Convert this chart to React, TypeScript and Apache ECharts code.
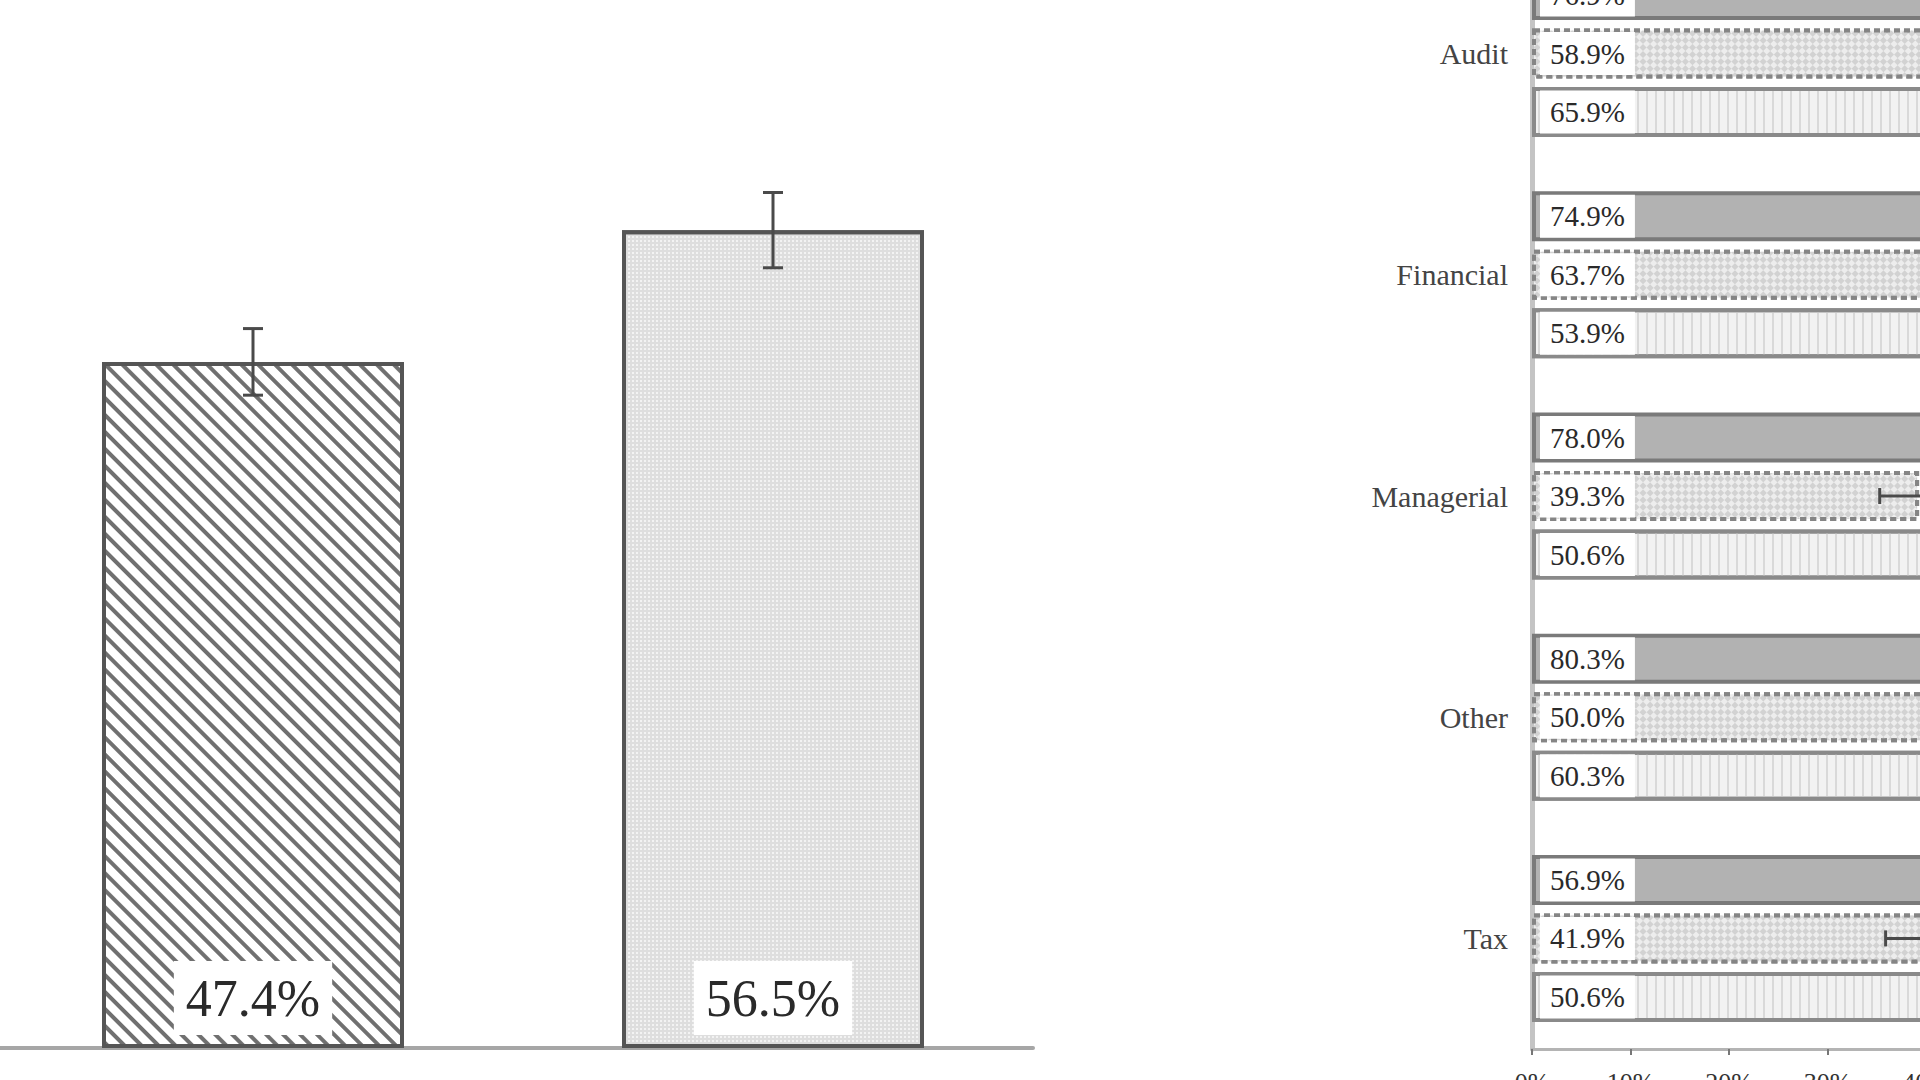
import React, { useEffect, useRef } from 'react';
import * as echarts from 'echarts';

// left panel: two overall bars with error bars
const overallGroups = ['Group A', 'Group B'];
const overallValues = [47.4, 56.5];
const overallErrors = [2.3, 2.6];

// right panel: grouped horizontal bars by area
const areas = ['Audit', 'Financial', 'Managerial', 'Other', 'Tax'];
const seriesDark = [76.9, 74.9, 78.0, 80.3, 56.9];
const seriesChecked = [58.9, 63.7, 39.3, 50.0, 41.9];
const seriesStriped = [65.9, 53.9, 50.6, 60.3, 50.6];
const checkedErrors = [5.0, 5.0, 4.0, 5.0, 6.0];
const percentTicks = [0, 10, 20, 30, 40, 50, 60, 70, 80, 90, 100];

const SERIF = "'Liberation Serif', 'Times New Roman', serif";

// the figure is a crop of a larger one: the chart canvas is bigger than the
// window and shifted up/left so that only the visible part lands on screen
const SHIFT_X = 100;
const SHIFT_Y = 200;
const CANVAS_W = 2700;
const CANVAS_H = 1300;

const pct = (v: number) => `${v.toFixed(1)}%`;

const App: React.FC = () => {
  const chartRef = useRef<HTMLDivElement>(null);

  useEffect(() => {
    if (!chartRef.current) return;
    document.body.style.margin = '0';
    document.body.style.overflow = 'hidden';
    const chart = echarts.init(chartRef.current, undefined, { renderer: 'svg' });

    const rightLabel = {
      show: true,
      position: 'insideLeft',
      distance: 8,
      formatter: (p: any) => pct(p.value),
      backgroundColor: '#ffffff',
      padding: [7, 10],
      fontFamily: SERIF,
      fontSize: 29,
      color: '#2a2a2a',
    };

    const option: echarts.EChartsOption = {
      animation: false,
      backgroundColor: '#ffffff',
      grid: [
        { left: SHIFT_X - 7, width: 1040, top: SHIFT_Y, height: 1048 },
        { left: SHIFT_X + 1532, width: 985, top: SHIFT_Y - 57, height: 1106 },
      ],
      xAxis: [
        {
          type: 'category',
          gridIndex: 0,
          data: overallGroups,
          axisLine: { lineStyle: { color: '#a6a6a6', width: 4 } },
          axisTick: { show: false },
          axisLabel: { show: false },
        },
        {
          type: 'value',
          gridIndex: 1,
          min: 0,
          max: 100,
          interval: 10,
          splitLine: { show: false },
          axisLine: { show: true, lineStyle: { color: '#b4b4b4', width: 3 } },
          axisTick: { show: true, length: 6, lineStyle: { color: '#777', width: 2 } },
          axisLabel: {
            formatter: (v: number) => (percentTicks.includes(v) ? `${v}%` : ''),
            fontFamily: SERIF,
            fontSize: 26,
            color: '#333',
            margin: 20,
          },
        },
      ],
      yAxis: [
        {
          type: 'value',
          gridIndex: 0,
          min: 0,
          max: 72.4,
          show: false,
        },
        {
          type: 'category',
          gridIndex: 1,
          data: areas,
          inverse: true,
          axisLine: { show: true, lineStyle: { color: '#c4c4c4', width: 5 } },
          axisTick: { show: false },
          axisLabel: {
            fontFamily: SERIF,
            fontSize: 30,
            color: '#444',
            margin: 24,
          },
        },
      ],
      series: [
        {
          type: 'bar',
          xAxisIndex: 0,
          yAxisIndex: 0,
          barWidth: 302,
          data: overallValues.map((v, i) => ({
            value: v,
            itemStyle:
              i === 0
                ? {
                    color: '#ffffff',
                    borderColor: '#555',
                    borderWidth: 4,
                    decal: {
                      symbol: 'rect',
                      symbolSize: 1,
                      color: '#707070',
                      dashArrayX: [1, 0],
                      dashArrayY: [4, 8],
                      rotation: Math.PI / 4,
                    },
                  }
                : {
                    color: '#dedede',
                    borderColor: '#555',
                    borderWidth: 4,
                    decal: {
                      symbol: 'rect',
                      symbolSize: 1,
                      color: '#f3f3f3',
                      dashArrayX: [2, 2],
                      dashArrayY: [2, 2],
                      rotation: 0,
                    },
                  },
          })),
          label: {
            show: true,
            position: 'insideBottom',
            distance: 13,
            formatter: (p: any) => pct(p.value),
            backgroundColor: '#ffffff',
            padding: [8, 12],
            lineHeight: 58,
            fontFamily: SERIF,
            fontSize: 52,
            color: '#2a2a2a',
          },
        },
        {
          type: 'custom',
          xAxisIndex: 0,
          yAxisIndex: 0,
          z: 5,
          encode: { x: 0, y: 1 },
          data: overallValues.map((v, i) => [i, v, overallErrors[i]]),
          renderItem: (_params: any, api: any) => {
            const c = api.value(0);
            const v = api.value(1);
            const e = api.value(2);
            const hi = api.coord([c, v + e]);
            const lo = api.coord([c, v - e]);
            const style = { stroke: '#4a4a4a', lineWidth: 3 };
            return {
              type: 'group',
              children: [
                { type: 'line', shape: { x1: hi[0], y1: hi[1], x2: lo[0], y2: lo[1] }, style },
                { type: 'line', shape: { x1: hi[0] - 10, y1: hi[1], x2: hi[0] + 10, y2: hi[1] }, style },
                { type: 'line', shape: { x1: lo[0] - 10, y1: lo[1], x2: lo[0] + 10, y2: lo[1] }, style },
              ],
            };
          },
        },
        {
          name: 'dark',
          type: 'bar',
          xAxisIndex: 1,
          yAxisIndex: 1,
          barWidth: 50,
          barGap: '17%',
          data: seriesDark,
          itemStyle: { color: '#b2b2b2', borderColor: '#7a7a7a', borderWidth: 4 },
          label: rightLabel,
        },
        {
          name: 'checked',
          type: 'bar',
          xAxisIndex: 1,
          yAxisIndex: 1,
          barWidth: 50,
          barGap: '17%',
          data: seriesChecked,
          itemStyle: {
            color: '#ededed',
            borderColor: '#858585',
            borderWidth: 4,
            borderType: [6, 4],
            decal: {
              symbol: 'rect',
              symbolSize: 1,
              color: '#d2d2d2',
              dashArrayX: [[5, 5], [0, 5, 5, 0]],
              dashArrayY: [5, 0],
              rotation: Math.PI / 4,
            },
          },
          label: rightLabel,
        },
        {
          name: 'striped',
          type: 'bar',
          xAxisIndex: 1,
          yAxisIndex: 1,
          barWidth: 50,
          barGap: '17%',
          data: seriesStriped,
          itemStyle: {
            color: '#f2f2f2',
            borderColor: '#8a8a8a',
            borderWidth: 4,
            decal: {
              symbol: 'rect',
              symbolSize: 1,
              color: '#d9d9d9',
              dashArrayX: [2, 7],
              dashArrayY: [1, 0],
              rotation: 0,
            },
          },
          label: rightLabel,
        },
        {
          type: 'custom',
          xAxisIndex: 1,
          yAxisIndex: 1,
          z: 5,
          encode: { x: 0, y: 1 },
          data: seriesChecked.map((v, i) => [v, i, checkedErrors[i]]),
          renderItem: (_params: any, api: any) => {
            const v = api.value(0);
            const c = api.value(1);
            const e = api.value(2);
            const lo = api.coord([v - e, c]);
            const hi = api.coord([v + e, c]);
            const style = { stroke: '#4a4a4a', lineWidth: 3 };
            return {
              type: 'group',
              children: [
                { type: 'line', shape: { x1: lo[0], y1: lo[1], x2: hi[0], y2: hi[1] }, style },
                { type: 'line', shape: { x1: lo[0], y1: lo[1] - 8, x2: lo[0], y2: lo[1] + 8 }, style },
                { type: 'line', shape: { x1: hi[0], y1: hi[1] - 8, x2: hi[0], y2: hi[1] + 8 }, style },
              ],
            };
          },
        },
      ],
    };

    chart.setOption(option);

    const handleResize = () => chart.resize();
    window.addEventListener('resize', handleResize);
    return () => {
      window.removeEventListener('resize', handleResize);
      chart.dispose();
    };
  }, []);

  return (
    <div
      ref={chartRef}
      style={{
        position: 'fixed',
        left: -SHIFT_X,
        top: -SHIFT_Y,
        width: CANVAS_W,
        height: CANVAS_H,
        background: '#fff',
      }}
    />
  );
};

export default App;
